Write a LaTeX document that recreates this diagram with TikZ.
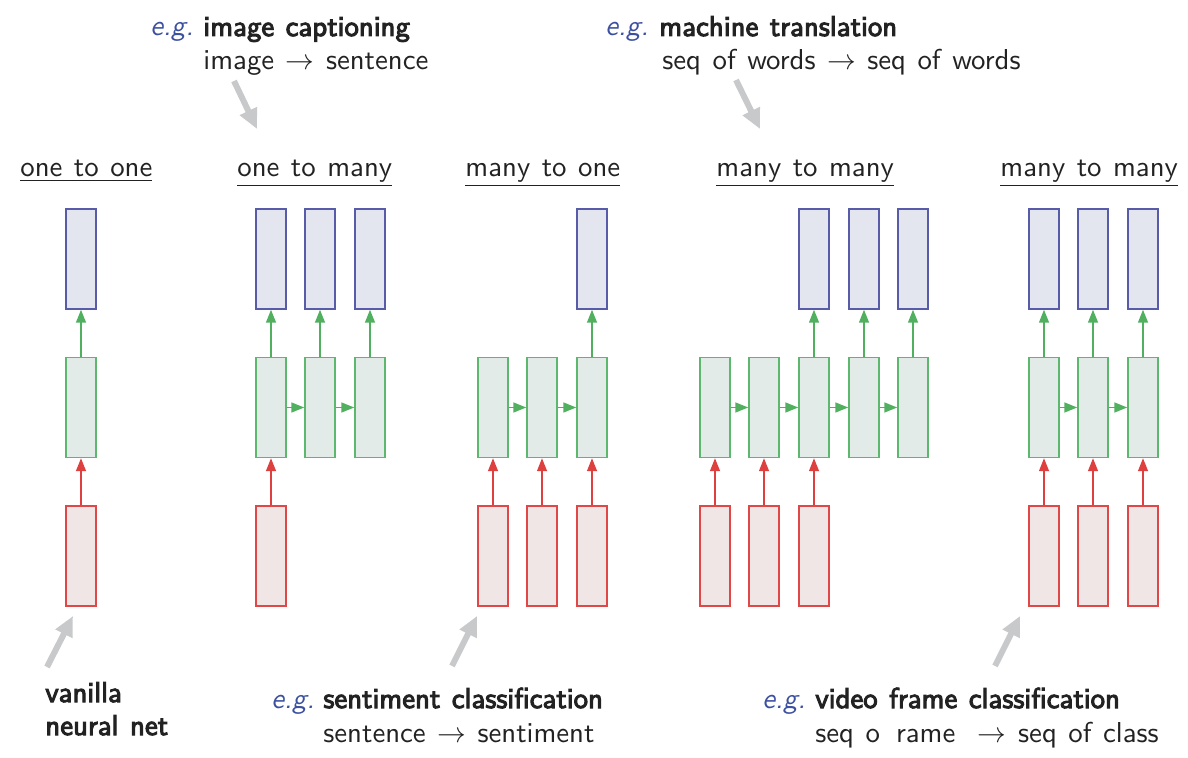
\documentclass[tikz,border=0pt]{standalone}
\usepackage{fontspec}
\setsansfont{lmsans10-regular.otf}[WordSpace=1.2, ItalicFont=lmsans10-oblique.otf, BoldFont=lmsans10-regular.otf, BoldFeatures={FakeBold=3.5}]
\usetikzlibrary{arrows.meta}
\definecolor{bbord}{RGB}{88,92,168}
\definecolor{bfill}{RGB}{227,229,239}
\definecolor{gbord}{RGB}{92,184,108}
\definecolor{gfill}{RGB}{226,235,232}
\definecolor{rbord}{RGB}{224,72,72}
\definecolor{rfill}{RGB}{241,230,230}
\definecolor{garr}{RGB}{80,176,96}
\definecolor{rarr}{RGB}{222,64,64}
\definecolor{grayarr}{RGB}{200,201,203}
\definecolor{egblue}{RGB}{60,80,160}
\definecolor{txt}{RGB}{34,34,34}
\begin{document}
\begin{tikzpicture}[x=0.5pt,y=-0.5pt,
  font=\sffamily\fontsize{14.4}{17.28}\selectfont,
  cell/.style={rectangle, minimum width=15pt, minimum height=50pt, inner sep=0pt, line width=0.75pt},
  obox/.style={cell, draw=bbord, fill=bfill},
  hbox/.style={cell, draw=gbord, fill=gfill},
  xbox/.style={cell, draw=rbord, fill=rfill},
  garrow/.style={draw=garr, line width=0.75pt, -{Triangle[length=6.5pt,width=5pt]}},
  rarrow/.style={draw=rarr, line width=0.75pt, -{Triangle[length=6.5pt,width=5pt]}},
  grayarrow/.style={draw=grayarr, line width=3pt, -{Triangle[length=10pt,width=9pt]}},
  lbl/.style={anchor=base west, inner sep=0pt, text=txt},
  eg/.style={anchor=base west, inner sep=0pt, text=egblue, font=\sffamily\itshape\fontsize{14.4}{17.28}\selectfont}
]
\useasboundingbox (0,0) rectangle (1188,758);

% titles
\node[lbl] (t1) at (20,177) {\underline{one to one}};
\node[lbl] (t2) at (237,177) {\underline{one to many}};
\node[lbl] (t3) at (465,177) {\underline{many to one}};
\node[lbl] (t4) at (716,177) {\underline{many to many}};
\node[lbl] (t5) at (1000,177) {\underline{many to many}};

% one to one
\node[obox] (a-o) at (81,259) {};
\node[hbox] (a-h) at (81,407.5) {};
\node[xbox] (a-x) at (81,556) {};
\draw[garrow] (a-h) -- (a-o);
\draw[rarrow] (a-x) -- (a-h);

% one to many
\foreach \i/\cx in {1/271,2/320,3/370}{
  \node[obox] (b-o\i) at (\cx,259) {};
  \node[hbox] (b-h\i) at (\cx,407.5) {};
  \draw[garrow] (b-h\i) -- (b-o\i);
}
\node[xbox] (b-x1) at (271,556) {};
\draw[rarrow] (b-x1) -- (b-h1);
\draw[garrow] (b-h1) -- (b-h2);
\draw[garrow] (b-h2) -- (b-h3);

% many to one
\foreach \i/\cx in {1/493,2/542,3/592}{
  \node[hbox] (c-h\i) at (\cx,407.5) {};
  \node[xbox] (c-x\i) at (\cx,556) {};
  \draw[rarrow] (c-x\i) -- (c-h\i);
}
\node[obox] (c-o3) at (592,259) {};
\draw[garrow] (c-h3) -- (c-o3);
\draw[garrow] (c-h1) -- (c-h2);
\draw[garrow] (c-h2) -- (c-h3);

% many to many (encoder-decoder)
\foreach \i/\cx in {1/715,2/764,3/814,4/864,5/913}{
  \node[hbox] (d-h\i) at (\cx,407.5) {};
}
\foreach \i/\cx in {1/715,2/764,3/814}{
  \node[xbox] (d-x\i) at (\cx,556) {};
  \draw[rarrow] (d-x\i) -- (d-h\i);
}
\foreach \i/\cx in {3/814,4/864,5/913}{
  \node[obox] (d-o\i) at (\cx,259) {};
  \draw[garrow] (d-h\i) -- (d-o\i);
}
\draw[garrow] (d-h1) -- (d-h2);
\draw[garrow] (d-h2) -- (d-h3);
\draw[garrow] (d-h3) -- (d-h4);
\draw[garrow] (d-h4) -- (d-h5);

% many to many (synced)
\foreach \i/\cx in {1/1044,2/1093,3/1143}{
  \node[obox] (e-o\i) at (\cx,259) {};
  \node[hbox] (e-h\i) at (\cx,407.5) {};
  \node[xbox] (e-x\i) at (\cx,556) {};
  \draw[garrow] (e-h\i) -- (e-o\i);
  \draw[rarrow] (e-x\i) -- (e-h\i);
}
\draw[garrow] (e-h1) -- (e-h2);
\draw[garrow] (e-h2) -- (e-h3);

% top annotations
\node[eg] (eg1) at (150,36) {e.g.};
\node[lbl] (ic1) at (203,36) {\bfseries image captioning};
\node[lbl] (ic2) at (203,70) {image $\rightarrow$ sentence};
\coordinate (g1s) at (234,81);
\coordinate (g1e) at (257,129);
\draw[grayarrow] (g1s) -- (g1e);

\node[eg] (eg2) at (605,36) {e.g.};
\node[lbl] (mt1) at (659,36) {\bfseries machine translation};
\node[lbl] (mt2) at (662,70) {seq of words $\rightarrow$ seq of words};
\coordinate (g2s) at (736,80);
\coordinate (g2e) at (760,129);
\draw[grayarrow] (g2s) -- (g2e);

% bottom annotations
\coordinate (g3s) at (47,667);
\coordinate (g3e) at (73,616);
\draw[grayarrow] (g3s) -- (g3e);
\node[lbl] (vn1) at (45,702) {\bfseries vanilla};
\node[lbl] (vn2) at (45,735) {\bfseries neural net};

\coordinate (g4s) at (452,666);
\coordinate (g4e) at (477,616);
\draw[grayarrow] (g4s) -- (g4e);
\node[eg] (eg3) at (271,708) {e.g.};
\node[lbl] (sc1) at (323,708) {\bfseries sentiment classification};
\node[lbl] (sc2) at (323,742) {sentence $\rightarrow$ sentiment};

\coordinate (g5s) at (995,666);
\coordinate (g5e) at (1020,616);
\draw[grayarrow] (g5s) -- (g5e);
\node[eg] (eg4) at (762,708) {e.g.};
\node[lbl] (vf1) at (815,708) {\bfseries video frame classification};
\node[lbl] (vf2) at (815,742) {seq o\hspace{8pt}rame\hspace{5.5pt} $\rightarrow$ seq of class};
\end{tikzpicture}
\end{document}
